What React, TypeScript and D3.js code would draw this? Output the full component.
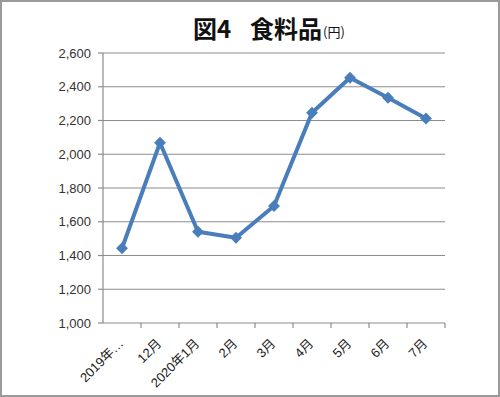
import React from "react";
import * as d3 from "d3";

const categories = ["2019年…", "12月", "2020年1月", "2月", "3月", "4月", "5月", "6月", "7月"];
const values = [1443, 2068, 1541, 1505, 1693, 2246, 2453, 2335, 2212];
const yTicks = [1000, 1200, 1400, 1600, 1800, 2000, 2200, 2400, 2600];

const W = 500, H = 397;
const left = 103, right = 445, top = 53, bottom = 323;

export default function App() {
  const x = d3.scaleBand<string>().domain(categories).range([left, right]).padding(0);
  const y = d3.scaleLinear().domain([1000, 2600]).range([bottom, top]);
  const fmt = d3.format(",");
  const line = d3.line<number>()
    .x((_, i) => (x(categories[i]) as number) + x.bandwidth() / 2)
    .y((d) => y(d));
  const diamond = d3.symbol().type(d3.symbolDiamond2).size(90)();
  const font = "'Liberation Sans', 'Noto Sans CJK JP', sans-serif";
  return (
    <svg width={W} height={H} style={{ position: "absolute", left: 0, top: 0 }} fontFamily={font}>
      <rect x={0} y={0} width={W} height={H} fill="#fff" />
      <rect x={1} y={1} width={W - 2} height={H - 2} fill="none" stroke="#9a9a9a" strokeWidth={2} />
      <text x={193} y={38} fontFamily="'Noto Sans CJK JP', sans-serif" fontWeight="bold" fontSize={24} fill="#111">
        図4<tspan x={250}>食料品</tspan><tspan fontSize={13} fontWeight="normal" dx={1} dy={-1}>(円)</tspan>
      </text>
      {yTicks.map((t) => (
        <g key={t}>
          {t !== 1000 && <line x1={left} x2={right} y1={y(t)} y2={y(t)} stroke="#8c8c8c" strokeWidth={1.2} />}
          <line x1={left - 5} x2={left} y1={y(t)} y2={y(t)} stroke="#8c8c8c" strokeWidth={1.2} />
          <text x={left - 12} y={y(t)} dy="0.35em" textAnchor="end" fontSize={13} fill="#333">{fmt(t)}</text>
        </g>
      ))}
      <line x1={left} x2={left} y1={top} y2={bottom} stroke="#8c8c8c" strokeWidth={1.2} />
      <line x1={left} x2={right} y1={bottom} y2={bottom} stroke="#8c8c8c" strokeWidth={1.2} />
      {categories.map((c, i) => (
        <line key={"t" + i} x1={(x(c) as number) + x.bandwidth()} x2={(x(c) as number) + x.bandwidth()} y1={bottom} y2={bottom + 5} stroke="#8c8c8c" strokeWidth={1.2} />
      ))}
      {categories.map((c, i) => {
        const cx = (x(c) as number) + x.bandwidth() / 2 - 1;
        const cy = bottom + 18;
        return (
          <text key={"l" + i} x={cx} y={cy} textAnchor="end" fontSize={13} fill="#222"
            transform={`rotate(-45 ${cx} ${cy})`} dy="0.35em">{c}</text>
        );
      })}
      <path d={line(values) || ""} fill="none" stroke="#4a7ebb" strokeWidth={4} strokeLinejoin="round" />
      {values.map((v, i) => (
        <path key={"m" + i} d={diamond || ""} fill="#4a7ebb"
          transform={`translate(${(x(categories[i]) as number) + x.bandwidth() / 2},${y(v)})`} />
      ))}
    </svg>
  );
}
